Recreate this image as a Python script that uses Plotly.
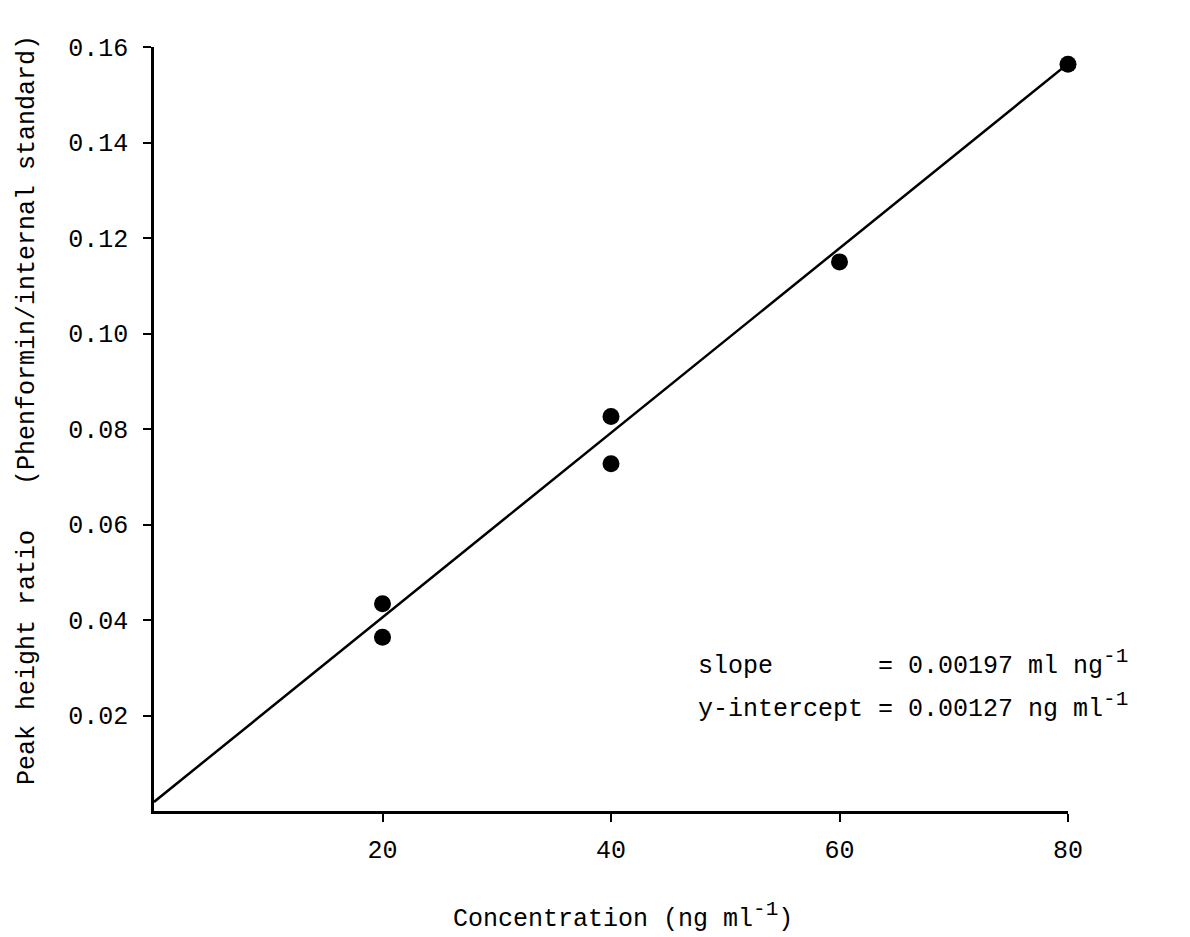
import plotly.graph_objects as go

# Data
conc = [20, 20, 40, 40, 60, 80]
ratio = [0.0434, 0.0364, 0.0826, 0.0727, 0.1150, 0.1564]
fit_x = [0, 80]
fit_y = [0.0019, 0.1565]

x_ticks = [20, 40, 60, 80]
y_ticks = [0.02, 0.04, 0.06, 0.08, 0.10, 0.12, 0.14, 0.16]
y_tick_text = ["0.02", "0.04", "0.06", "0.08", "0.10", "0.12", "0.14", "0.16"]

FONT = "Liberation Mono, Courier New, monospace"
NB = "\u00a0"
SUP = "<sup><span style='font-size:21px'>-1</span></sup>"

L, R, T, B = 154, 122, 47, 126
W, H = 1190, 937
pw, ph = W - L - R, H - T - B

def px(x):
    return (x - L) / pw

def py(y):
    return (H - B - y) / ph

fig = go.Figure()
fig.add_trace(go.Scatter(x=fit_x, y=fit_y, mode="lines",
                         line=dict(color="black", width=2.5),
                         hoverinfo="skip", showlegend=False, cliponaxis=False))
fig.add_trace(go.Scatter(x=conc, y=ratio, mode="markers",
                         marker=dict(color="black", size=17),
                         showlegend=False, cliponaxis=False))

axis_common = dict(showline=True, linecolor="black", linewidth=2.5,
                   ticks="outside", ticklen=8, tickwidth=2, tickcolor="black",
                   showgrid=False, zeroline=False,
                   tickfont=dict(family=FONT, size=25, color="black"))

fig.update_xaxes(range=[0, 80], tickvals=x_ticks, ticktext=[str(v) for v in x_ticks],
                 ticklabelstandoff=6, **axis_common)
fig.update_yaxes(range=[0, 0.16], tickvals=y_ticks, ticktext=y_tick_text,
                 ticklabelstandoff=10, **axis_common)

annotations = [
    dict(x=px(623), y=py(916), xref="paper", yref="paper",
         text="Concentration (ng ml" + SUP + ")", showarrow=False,
         xanchor="center", yanchor="middle",
         font=dict(family=FONT, size=25, color="black")),
    dict(x=px(28), y=py(410), xref="paper", yref="paper",
         text="Peak height ratio" + NB * 3 + "(Phenformin/internal standard)",
         showarrow=False, textangle=-90, xanchor="center", yanchor="middle",
         font=dict(family=FONT, size=25, color="black")),
    dict(x=px(696), y=py(663), xref="paper", yref="paper",
         text="slope" + NB * 7 + "= 0.00197 ml ng" + SUP, showarrow=False,
         xanchor="left", yanchor="middle",
         font=dict(family=FONT, size=25, color="black")),
    dict(x=px(696), y=py(706), xref="paper", yref="paper",
         text="y-intercept = 0.00127 ng ml" + SUP, showarrow=False,
         xanchor="left", yanchor="middle",
         font=dict(family=FONT, size=25, color="black")),
]

fig.update_layout(width=W, height=H,
                  margin=dict(l=L, r=R, t=T, b=B, pad=0),
                  paper_bgcolor="white", plot_bgcolor="white",
                  annotations=annotations, showlegend=False)

fig.write_html("out.html")
